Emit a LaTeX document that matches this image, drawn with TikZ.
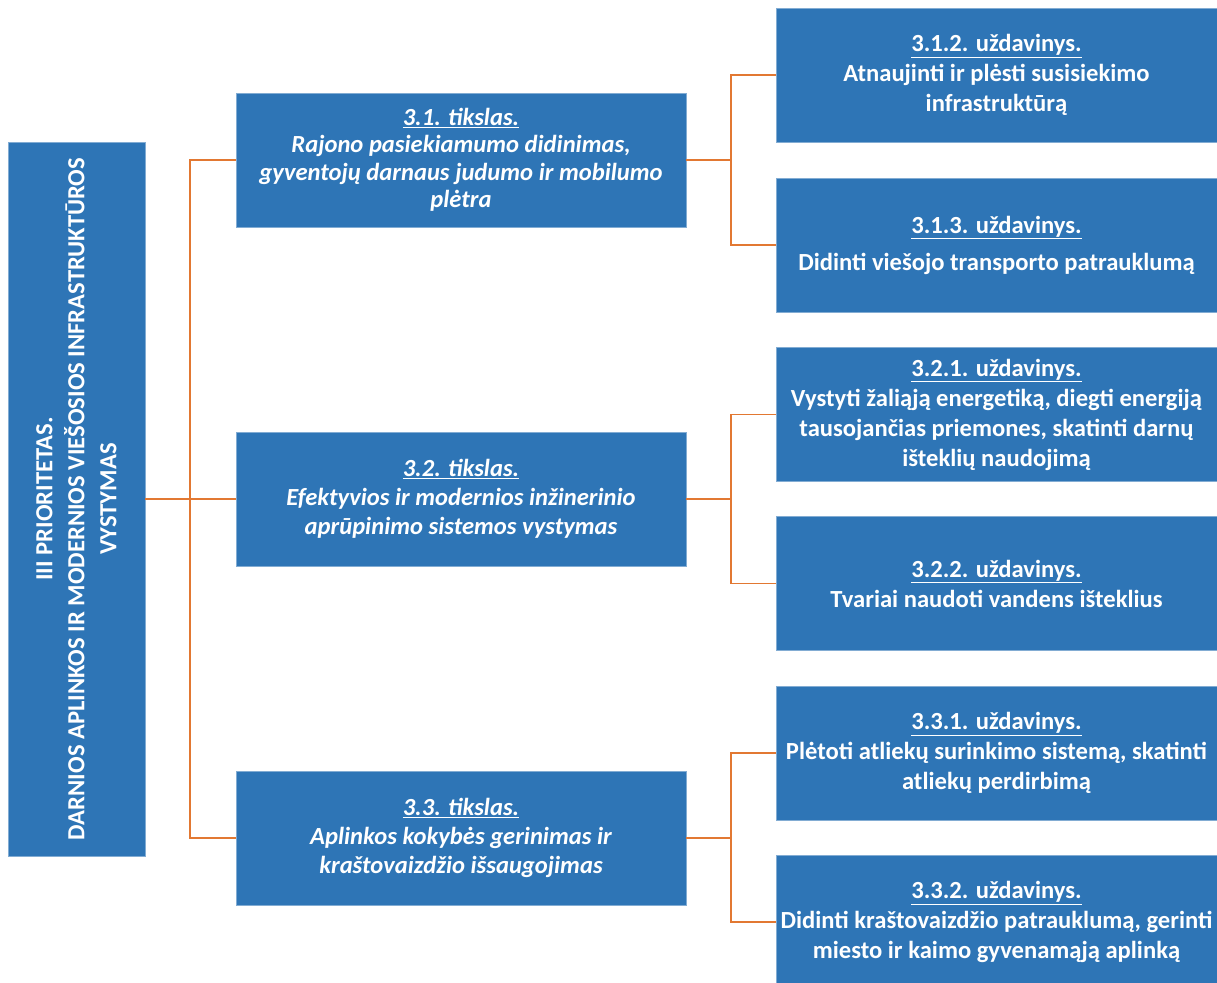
\documentclass[tikz,border=0pt]{standalone}
\usepackage{fontspec}
\setmainfont{Carlito}
\usetikzlibrary{positioning}
\definecolor{boxblue}{RGB}{46,117,182}
\definecolor{linkorange}{RGB}{226,120,50}

\begin{document}
\begin{tikzpicture}
    [
    x=1pt,y=-1pt,
    box/.style={rectangle,fill=boxblue,draw=boxblue!60!white,line width=0.6pt,text=white,inner sep=0pt,align=center},
    prio/.style={box,rotate=90,minimum width=714pt,minimum height=137pt,font=\fontsize{24.6}{32}\selectfont\bfseries},
    goal/.style={box,minimum width=450pt,minimum height=134pt,font=\fontsize{24.6}{29}\selectfont\bfseries\itshape},
    task/.style={box,minimum width=441pt,minimum height=134pt,font=\fontsize{24.6}{30}\selectfont\bfseries},
    link/.style={draw=linkorange,line width=1.3pt},
    ]
    \useasboundingbox (0,0) rectangle (1217,982);

    \node (p) at (76.5,499) [prio] {III PRIORITETAS.\\DARNIOS APLINKOS IR MODERNIOS VIEŠOSIOS INFRASTRUKTŪROS\\VYSTYMAS};

    \node (g1) at (461,160) [goal] {\underline{3.1. tikslas.}\\[-1.5pt]Rajono pasiekiamumo didinimas,\\[-1.5pt]gyventojų darnaus judumo ir mobilumo\\[-1.5pt]plėtra};
    \node (g2) at (461,499) [goal] {\underline{3.2. tikslas.}\\Efektyvios ir modernios inžinerinio\\aprūpinimo sistemos vystymas};
    \node (g3) at (461,838) [goal] {\underline{3.3. tikslas.}\\Aplinkos kokybės gerinimas ir\\kraštovaizdžio išsaugojimas};

    \node (t12) at (996.5,75) [task] {\underline{3.1.2. uždavinys.}\\Atnaujinti ir plėsti susisiekimo\\infrastruktūrą};
    \node (t13) at (996.5,245) [task] {\underline{3.1.3. uždavinys.}\\[7pt]Didinti viešojo transporto patrauklumą};
    \node (t21) at (996.5,414.5) [task] {\underline{3.2.1. uždavinys.}\\Vystyti žaliąją energetiką, diegti energiją\\tausojančias priemones, skatinti darnų\\išteklių naudojimą};
    \node (t22) at (996.5,583.5) [task] {\underline{3.2.2. uždavinys.}\\Tvariai naudoti vandens išteklius};
    \node (t31) at (996.5,753) [task] {\underline{3.3.1. uždavinys.}\\Plėtoti atliekų surinkimo sistemą, skatinti\\atliekų perdirbimą};
    \node (t32) at (996.5,922) [task] {\underline{3.3.2. uždavinys.}\\Didinti kraštovaizdžio patrauklumą, gerinti\\miesto ir kaimo gyvenamąją aplinką};

    % junctions
    \coordinate (j0) at (190,499);
    \coordinate (j1) at (731,160);
    \coordinate (j2) at (731,499);
    \coordinate (j3) at (731,838);

    \draw [link] (p.south) -- (j0);
    \draw [link] (j0) |- (g1.west);
    \draw [link] (j0) -- (g2.west);
    \draw [link] (j0) |- (g3.west);

    \draw [link] (g1.east) -- (j1);
    \draw [link] (j1) |- (t12.west);
    \draw [link] (j1) |- (t13.west);
    \draw [link] (g2.east) -- (j2);
    \draw [link] (j2) |- (t21.west);
    \draw [link] (j2) |- (t22.west);
    \draw [link] (g3.east) -- (j3);
    \draw [link] (j3) |- (t31.west);
    \draw [link] (j3) |- (t32.west);
\end{tikzpicture}
\end{document}
